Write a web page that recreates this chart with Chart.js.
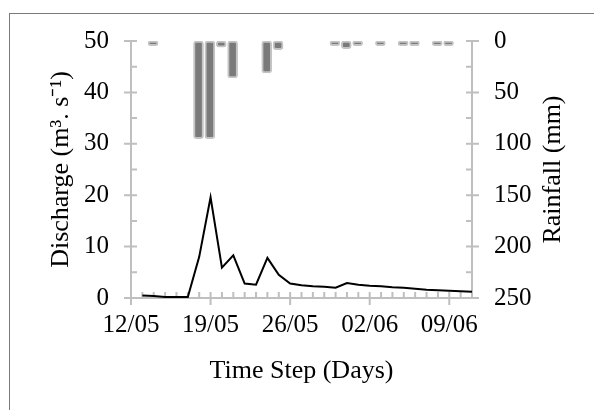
<!DOCTYPE html>
<html>
<head>
<meta charset="utf-8">
<script src="https://cdn.jsdelivr.net/npm/chart.js@4.4.1/dist/chart.umd.min.js"></script>
<style>
  html, body { margin: 0; padding: 0; background: #fff; overflow: hidden; }
  #wrap { position: relative; width: 594px; height: 410px; }
  #frame { position: absolute; left: 9px; top: 13px; width: 700px; height: 500px; border: 1px solid #7a7a7a; }
  canvas { position: absolute; left: 0; top: 0; }
</style>
</head>
<body>
<div id="wrap">
  <div id="frame"></div>
  <canvas id="chart" width="594" height="410"></canvas>
</div>
<script>
// daily time steps, 12/05 to 11/06
const dates = [
    '12/05', '13/05', '14/05', '15/05', '16/05', '17/05', '18/05', '19/05', '20/05', '21/05',
    '22/05', '23/05', '24/05', '25/05', '26/05', '27/05', '28/05', '29/05', '30/05', '31/05',
    '01/06', '02/06', '03/06', '04/06', '05/06', '06/06', '07/06', '08/06', '09/06', '10/06',
    '11/06',
];

// discharge (m3/s), one value per day (none on the first day)
const discharge = [
    null, 0.5, 0.4, 0.2, 0.2, 0.2, 8.0, 19.6, 5.9, 8.3,
    2.8, 2.6, 7.8, 4.5, 2.8, 2.5, 2.3, 2.2, 2.0, 2.9,
    2.6, 2.4, 2.3, 2.1, 2.0, 1.8, 1.6, 1.5, 1.4, 1.3,
    1.2,
];

// rainfall (mm), one bar per day interval
const rainDays = dates.slice(0, 30);
const rainfall = [
    0, 4.5, 0, 0, 0, 95, 95, 6, 36, 0,
    0, 31, 8.5, 0, 0, 0, 0, 4.5, 7.5, 4.5,
    0, 4.5, 0, 4.5, 4.5, 0, 4.5, 4.5, 0, 0,
];

const dischargeTicks = [0, 10, 20, 30, 40, 50];
const rainfallTicks = [0, 50, 100, 150, 200, 250];

const fontFamily = "'Liberation Serif', 'Times New Roman', serif";
const axisColor = '#bfbfbf';

// Excel style axes: grey lines, major ticks crossing, minor ticks inside
const axisMarks = {
    id: 'axisMarks',
    beforeDatasetsDraw(chart) {
        const { ctx, chartArea: a, scales } = chart;
        const { x, y, y2 } = scales;
        ctx.save();
        ctx.strokeStyle = axisColor;
        ctx.lineWidth = 2;
        ctx.beginPath();
        ctx.moveTo(a.left, a.top);
        ctx.lineTo(a.left, a.bottom);
        ctx.moveTo(a.right, a.top);
        ctx.lineTo(a.right, a.bottom);
        ctx.moveTo(a.left, a.bottom);
        ctx.lineTo(a.right, a.bottom);

        dischargeTicks.forEach((v, i) => {
            const py = y.getPixelForValue(v);
            ctx.moveTo(a.left - 7, py);
            ctx.lineTo(a.left + 6, py);
            if (i > 0) {
                const my = y.getPixelForValue(v - 5);
                ctx.moveTo(a.left, my);
                ctx.lineTo(a.left + 6, my);
            }
        });

        rainfallTicks.forEach((v, i) => {
            const py = y2.getPixelForValue(v);
            ctx.moveTo(a.right - 6, py);
            ctx.lineTo(a.right + 7, py);
            if (i > 0) {
                const my = y2.getPixelForValue(v - 25);
                ctx.moveTo(a.right - 6, my);
                ctx.lineTo(a.right, my);
            }
        });

        dates.forEach((d, i) => {
            const px = x.getPixelForValue(i);
            if (i % 7 === 0) {
                ctx.moveTo(px, a.bottom - 6);
                ctx.lineTo(px, a.bottom + 7);
            } else {
                ctx.moveTo(px, a.bottom - 6);
                ctx.lineTo(px, a.bottom);
            }
        });
        ctx.stroke();
        ctx.restore();
    },
    afterDraw(chart) {
        // right title reads bottom-to-top like the left one
        const { ctx, chartArea: a } = chart;
        ctx.save();
        ctx.translate(553, (a.top + a.bottom) / 2);
        ctx.rotate(-Math.PI / 2);
        ctx.font = '26px ' + fontFamily;
        ctx.fillStyle = '#000';
        ctx.textAlign = 'center';
        ctx.textBaseline = 'middle';
        ctx.fillText('Rainfall (mm)', 0, 0);
        ctx.restore();
    },
};

const ctx = document.getElementById('chart').getContext('2d');
const chart = new Chart(ctx, {
    data: {
        labels: dates,
        datasets: [
            {
                type: 'line',
                label: 'Discharge',
                data: discharge,
                xAxisID: 'x',
                yAxisID: 'y',
                borderColor: '#000000',
                borderWidth: 2,
                pointRadius: 0,
                tension: 0,
                order: 0,
            },
            {
                type: 'bar',
                label: 'Rainfall',
                data: rainfall.map(v => (v > 0 ? v : null)),
                xAxisID: 'x2',
                yAxisID: 'y2',
                backgroundColor: '#7a7a7a',
                borderColor: '#c4c4c4',
                borderWidth: 2,
                borderRadius: 3,
                borderSkipped: false,
                barThickness: 10,
                order: 1,
            },
        ],
    },
    options: {
        responsive: false,
        animation: false,
        layout: { padding: { top: 41, left: 0, right: 0, bottom: 0 } },
        plugins: {
            legend: { display: false },
            tooltip: { enabled: false },
        },
        scales: {
            x: {
                type: 'category',
                labels: dates,
                offset: false,
                grid: { display: false, drawTicks: false },
                border: { display: false },
                ticks: {
                    autoSkip: false,
                    maxRotation: 0,
                    padding: 12,
                    color: '#000',
                    font: { family: fontFamily, size: 25 },
                    callback: (v, i) => (i % 7 === 0 ? dates[i] : ''),
                },
                title: {
                    display: true,
                    text: 'Time Step (Days)',
                    color: '#000',
                    font: { family: fontFamily, size: 26 },
                    padding: { top: 0, bottom: 23 },
                },
                afterFit: (scale) => { scale.height = 112; },
            },
            x2: {
                type: 'category',
                labels: rainDays,
                offset: true,
                display: false,
            },
            y: {
                position: 'left',
                min: 0,
                max: 50,
                grid: { display: false, drawTicks: false },
                border: { display: false },
                ticks: {
                    stepSize: 10,
                    padding: 22,
                    color: '#000',
                    font: { family: fontFamily, size: 25 },
                },
                title: {
                    display: true,
                    text: 'Discharge (m³. s⁻¹)',
                    color: '#000',
                    font: { family: fontFamily, size: 26 },
                    padding: { top: 46, bottom: 0 },
                },
                afterFit: (scale) => { scale.width = 131; },
            },
            y2: {
                position: 'right',
                reverse: true,
                min: 0,
                max: 250,
                grid: { display: false, drawTicks: false },
                border: { display: false },
                ticks: {
                    stepSize: 50,
                    padding: 22,
                    color: '#000',
                    font: { family: fontFamily, size: 25 },
                },
                afterFit: (scale) => { scale.width = 122; },
            },
        },
    },
    plugins: [axisMarks],
});
</script>
</body>
</html>
